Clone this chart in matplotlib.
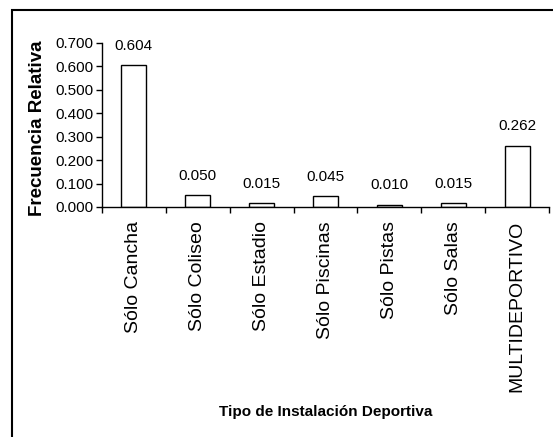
import numpy as np
import matplotlib.pyplot as plt
from matplotlib.patches import Rectangle

categorias = ["Sólo Cancha", "Sólo Coliseo", "Sólo Estadio", "Sólo Piscinas",
              "Sólo Pistas", "Sólo Salas", "MULTIDEPORTIVO"]
frecuencia = [0.604, 0.050, 0.015, 0.045, 0.010, 0.015, 0.262]
yticks = [0.0, 0.1, 0.2, 0.3, 0.4, 0.5, 0.6, 0.7]

plt.rcParams['font.family'] = ['Liberation Sans', 'DejaVu Sans']

W, H = 553, 437
fig = plt.figure(figsize=(W / 100, H / 100), dpi=100)
ax = fig.add_axes([102 / W, 1 - 207 / H, (549 - 102) / W, (207 - 43) / H])

x = np.arange(len(categorias))
ax.bar(x, frecuencia, width=0.39, color='white', edgecolor='black', linewidth=1.0)

for xi, v in zip(x, frecuencia):
    ax.annotate(f"{v:.3f}", (xi, v), xytext=(0, 9), textcoords='offset points',
                ha='center', va='bottom', fontsize=11)

ax.set_xlim(-0.5, len(categorias) - 0.5)
ax.set_ylim(0, 0.7)
ax.set_yticks(yticks)
ax.set_yticklabels([f"{t:.3f}" for t in yticks], fontsize=11)
ax.tick_params(axis='y', direction='out', length=4, width=1, pad=2)

# ticks at category boundaries, labels at centers
ax.set_xticks(np.arange(len(categorias) + 1) - 0.5)
ax.set_xticklabels([])
ax.tick_params(axis='x', which='major', direction='out', length=4, width=1)
ax.set_xticks(x, minor=True)
ax.set_xticklabels(categorias, minor=True, rotation=90, fontsize=14, va='top', ha='center')
ax.tick_params(axis='x', which='minor', length=0, pad=10)

for s in ['top', 'right']:
    ax.spines[s].set_visible(False)
for s in ['left', 'bottom']:
    ax.spines[s].set_linewidth(1.0)

fig.text(38 / W, 1 - 128 / H, "Frecuencia Relativa", rotation=90, fontsize=13.5,
         fontweight='bold', ha='center', va='center')
fig.text(326 / W, 1 - 412 / H, "Tipo de Instalación Deportiva", fontsize=11,
         fontweight='bold', ha='center', va='center')

# outer frame
fig.patches.append(Rectangle((12 / W, -0.1), 1.2, 1.1 - 10 / H, transform=fig.transFigure,
                             fill=False, edgecolor='black', linewidth=1.5))

fig.savefig("out.png", dpi=100)
